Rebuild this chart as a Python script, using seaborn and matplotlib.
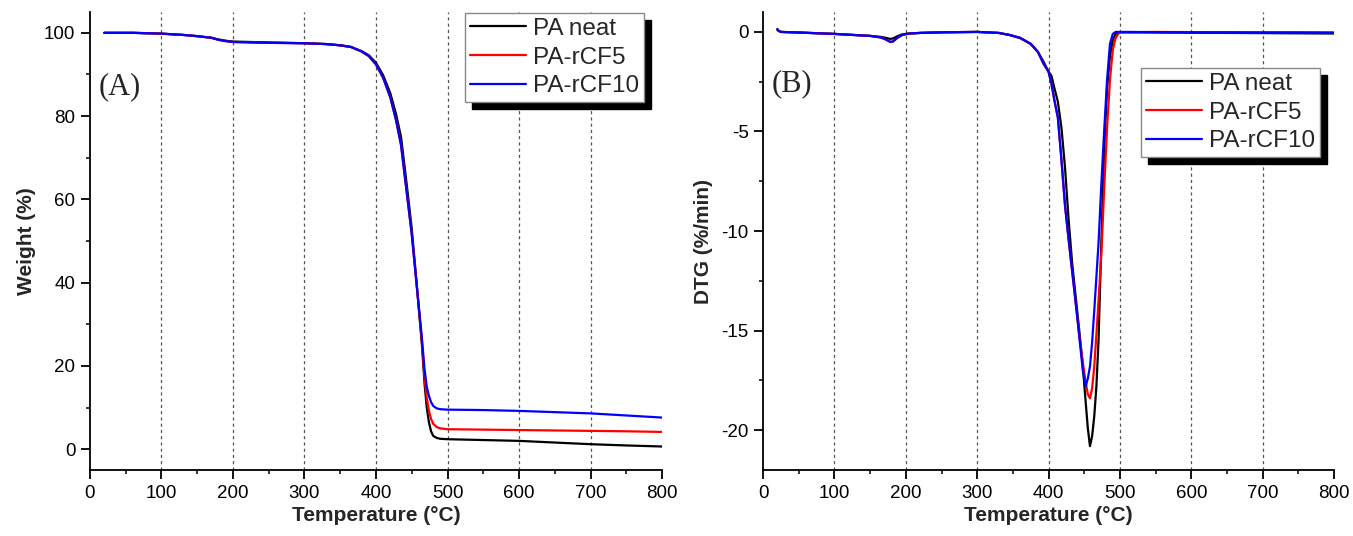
import seaborn as sns
import matplotlib.pyplot as plt
import pandas as pd
import numpy as np
from matplotlib.ticker import MultipleLocator

# ---- TGA data (weight %) ----
tga_temp = [20, 60, 100, 130, 150, 170, 180, 190, 200, 225, 250, 300, 330, 350,
            365, 380, 390, 400, 410, 420, 428, 435, 442, 450, 457, 464, 468, 471,
            474, 477, 480, 485, 490, 500, 550, 600, 650, 700, 750, 800]
tga_neat = [100, 100, 99.8, 99.5, 99.2, 98.8, 98.4, 98.1, 97.9, 97.8, 97.7, 97.5, 97.3, 97.0,
            96.6, 95.6, 94.6, 92.8, 89.8, 85.5, 80.5, 75.0, 65.0, 53.0, 39.5, 25.5, 15.5, 10.0,
            6.5, 4.3, 3.2, 2.7, 2.5, 2.4, 2.2, 2.0, 1.6, 1.2, 0.9, 0.65]
tga_cf5 = [100, 100, 99.8, 99.5, 99.2, 98.8, 98.3, 98.0, 97.8, 97.7, 97.6, 97.5, 97.3, 97.0,
           96.6, 95.5, 94.4, 92.4, 89.2, 84.5, 79.2, 73.2, 63.2, 51.8, 39.2, 26.3, 17.0, 12.3,
           9.2, 7.3, 6.1, 5.3, 5.0, 4.8, 4.7, 4.6, 4.5, 4.4, 4.3, 4.15]
tga_cf10 = [100, 100, 99.8, 99.5, 99.2, 98.8, 98.3, 98.0, 97.8, 97.7, 97.6, 97.5, 97.3, 97.0,
            96.6, 95.5, 94.4, 92.4, 89.2, 84.5, 79.0, 73.0, 63.0, 51.5, 39.3, 27.0, 19.0, 15.0,
            12.8, 11.3, 10.4, 9.8, 9.6, 9.5, 9.4, 9.2, 8.9, 8.6, 8.1, 7.6]

# ---- DTG data (%/min) ----
dtg_temp = [20, 22, 25, 50, 100, 150, 165, 172, 178, 182, 188, 195, 205, 220, 250, 300,
            330, 345, 360, 375, 385, 393, 400, 404, 408, 413, 418, 423, 428, 433, 438, 443,
            448, 452, 455, 458, 461, 464, 467, 470, 474, 478, 482, 486, 490, 494, 498, 502,
            510, 550, 600, 650, 700, 750, 800]
dtg_neat = [0.15, 0.05, 0.0, -0.03, -0.1, -0.2, -0.25, -0.3, -0.35, -0.33, -0.22, -0.12, -0.08, -0.05, -0.02, 0.0,
            -0.05, -0.15, -0.3, -0.6, -1.0, -1.5, -2.0, -2.2, -2.8, -3.5, -4.8, -6.8, -9.4, -11.6, -13.3, -15.0,
            -16.8, -18.6, -19.9, -20.8, -20.3, -19.3, -17.8, -15.5, -10.5, -5.8, -2.8, -1.2, -0.4, -0.1, -0.03, -0.02,
            -0.02, -0.03, -0.04, -0.05, -0.06, -0.07, -0.08]
dtg_cf5 = [0.1, 0.05, 0.0, -0.03, -0.1, -0.2, -0.28, -0.38, -0.5, -0.48, -0.3, -0.15, -0.08, -0.05, -0.02, 0.0,
           -0.05, -0.15, -0.3, -0.6, -1.0, -1.6, -2.0, -2.6, -3.4, -4.3, -6.4, -8.7, -10.4, -12.0, -13.6, -15.2,
           -16.6, -17.6, -18.2, -18.4, -17.9, -16.8, -15.2, -13.5, -11.1, -7.8, -4.8, -2.4, -0.9, -0.3, -0.08, -0.02,
           -0.02, 0.0, -0.01, -0.02, -0.02, -0.02, -0.03]
dtg_cf10 = [0.1, 0.05, 0.0, -0.03, -0.1, -0.2, -0.28, -0.38, -0.5, -0.48, -0.3, -0.15, -0.08, -0.05, -0.02, 0.0,
            -0.05, -0.15, -0.3, -0.6, -1.0, -1.6, -2.0, -2.6, -3.4, -4.3, -6.4, -8.7, -10.4, -12.0, -13.6, -15.3,
            -17.0, -17.8, -17.4, -16.8, -15.6, -14.0, -12.3, -10.6, -7.6, -4.9, -2.4, -0.6, -0.1, 0.0, 0.0, 0.0,
            0.0, -0.01, -0.02, -0.02, -0.03, -0.03, -0.04]

samples = ["PA neat", "PA-rCF5", "PA-rCF10"]
colors = ["black", "red", "blue"]
grid_temps = [100, 200, 300, 400, 500, 600, 700]

sns.set_style("ticks")
plt.rcParams["font.family"] = ["Liberation Sans", "DejaVu Sans"]
plt.rcParams["axes.unicode_minus"] = False

fig = plt.figure(figsize=(13.53, 5.36), dpi=100)
ax1 = fig.add_axes([0.0665, 0.1231, 0.4228, 0.8545])
ax2 = fig.add_axes([0.564, 0.1231, 0.4220, 0.8545])


def draw_panel(ax, temp, series, ylabel, ylim, ymaj, ymin, tag, tag_y, leg_anchor):
    for gx in grid_temps:
        ax.axvline(gx, color="#555555", lw=0.9, ls=(0, (2.5, 2.5)), zorder=0)
    for name, col, vals in zip(samples, colors, series):
        sns.lineplot(x=temp, y=vals, ax=ax, color=col, lw=1.6, label=name)
    ax.set_xlim(0, 800)
    ax.set_ylim(*ylim)
    ax.xaxis.set_major_locator(MultipleLocator(100))
    ax.xaxis.set_minor_locator(MultipleLocator(50))
    ax.yaxis.set_major_locator(MultipleLocator(ymaj))
    ax.yaxis.set_minor_locator(MultipleLocator(ymin))
    ax.tick_params(which="major", direction="out", length=6.5, width=1.3, labelsize=13.5,
                   colors="black", pad=4)
    ax.tick_params(which="minor", direction="out", length=3.2, width=1.3)
    for s in ["top", "right"]:
        ax.spines[s].set_visible(False)
    for s in ["left", "bottom"]:
        ax.spines[s].set_linewidth(1.3)
        ax.spines[s].set_color("black")
    ax.set_xlabel("Temperature (°C)", fontsize=15, fontweight="bold", labelpad=3)
    ax.set_ylabel(ylabel, fontsize=15, fontweight="bold", labelpad=6)
    ax.text(12, tag_y, tag, fontsize=22, family=["Liberation Serif", "DejaVu Serif"],
            va="center", ha="left")
    leg = ax.legend(loc="upper left", bbox_to_anchor=leg_anchor, fontsize=17.5,
                    frameon=True, fancybox=False, handlelength=2.3, handletextpad=0.3,
                    labelspacing=0.28, borderpad=0.2, borderaxespad=0,
                    shadow={"ox": 5, "oy": -5, "facecolor": "black", "edgecolor": "black", "alpha": 1})
    leg.get_frame().set_edgecolor("#888888")
    leg.get_frame().set_linewidth(1.0)
    leg.get_frame().set_alpha(1)
    for ln in leg.get_lines():
        ln.set_linewidth(1.6)


draw_panel(ax1, tga_temp, [tga_neat, tga_cf5, tga_cf10], "Weight (%)",
           (-5, 105), 20, 10, "(A)", 87, (0.656, 0.998))
draw_panel(ax2, dtg_temp, [dtg_neat, dtg_cf5, dtg_cf10], "DTG (%/min)",
           (-22, 1), 5, 2.5, "(B)", -2.6, (0.662, 0.878))

fig.savefig("out.png", dpi=100)
